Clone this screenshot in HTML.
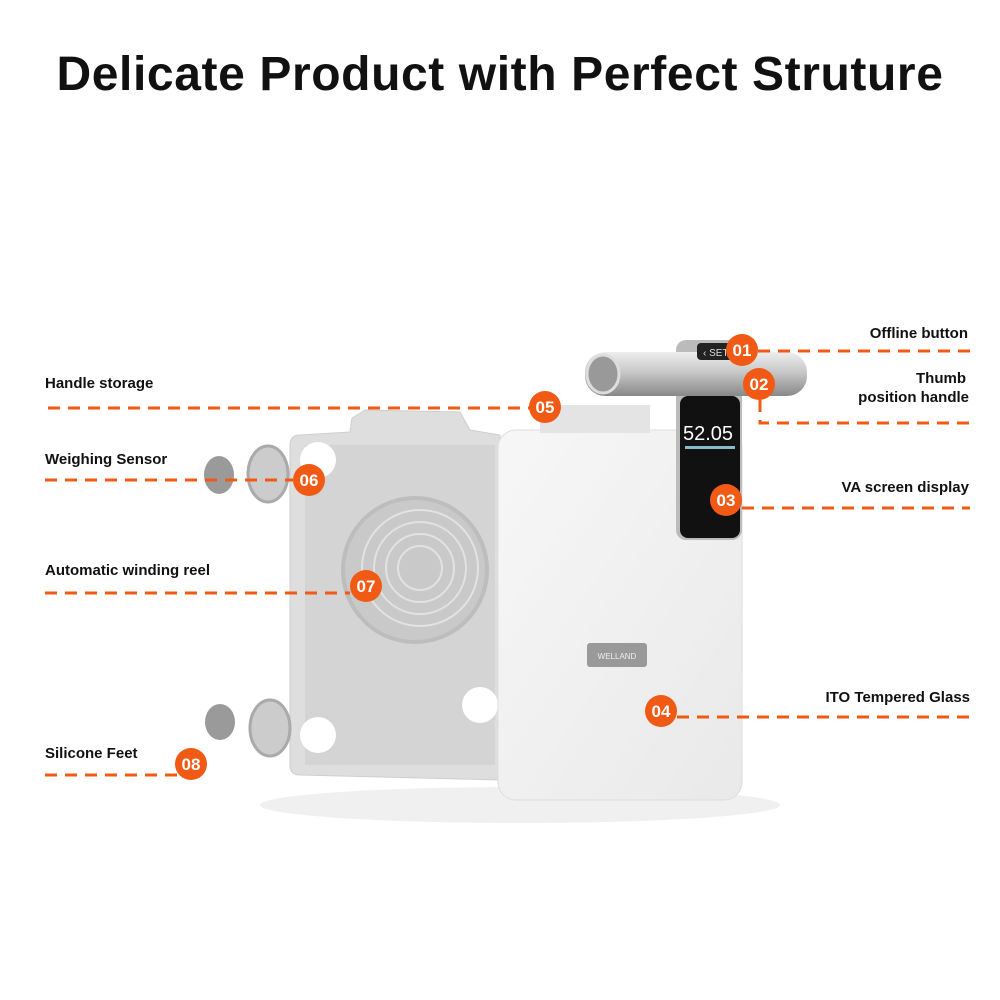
<!DOCTYPE html>
<html><head><meta charset="utf-8"><style>
body{margin:0;background:#fff;width:1000px;height:1000px;overflow:hidden}
svg{display:block}
</style></head><body>
<svg width="1000" height="1000" viewBox="0 0 1000 1000" font-family="Liberation Sans, sans-serif">
<defs>
<linearGradient id="cyl" x1="0" y1="0" x2="0" y2="1"><stop offset="0" stop-color="#eee"/><stop offset="0.45" stop-color="#c8c8c8"/><stop offset="1" stop-color="#888"/></linearGradient>
<linearGradient id="glass" x1="0" y1="0" x2="1" y2="1"><stop offset="0" stop-color="#f7f7f7"/><stop offset="1" stop-color="#e9e9e9"/></linearGradient>
</defs>
<text x="500" y="90" text-anchor="middle" font-size="48" font-weight="bold" letter-spacing="0.6" fill="#111">Delicate Product with Perfect Struture</text>
<ellipse cx="520" cy="805" rx="260" ry="18" fill="#f0f0f0"/>
<path d="M300 435 L350 432 L352 418 L365 410 L460 412 L470 430 L500 435 L500 780 L300 775 Q290 775 290 765 L290 445 Q290 435 300 435Z" fill="#dedede" stroke="#cfcfcf"/>
<rect x="305" y="445" width="190" height="320" fill="#d4d4d4"/>
<circle cx="415" cy="570" r="72" fill="#c9c9c9" stroke="#bdbdbd" stroke-width="4"/>
<circle cx="420" cy="568" r="58" fill="none" stroke="#e2e2e2" stroke-width="2"/>
<circle cx="420" cy="568" r="46" fill="none" stroke="#e2e2e2" stroke-width="2"/>
<circle cx="420" cy="568" r="34" fill="none" stroke="#e2e2e2" stroke-width="2"/>
<circle cx="420" cy="568" r="22" fill="none" stroke="#e2e2e2" stroke-width="2"/>
<circle cx="318" cy="460" r="18" fill="#fff"/>
<circle cx="318" cy="735" r="18" fill="#fff"/>
<circle cx="480" cy="705" r="18" fill="#fff"/>
<ellipse cx="219" cy="475" rx="15" ry="19" fill="#9a9a9a"/>
<ellipse cx="268" cy="474" rx="20" ry="28" fill="#ccc" stroke="#aaa" stroke-width="3"/>
<ellipse cx="220" cy="722" rx="15" ry="18" fill="#9a9a9a"/>
<ellipse cx="270" cy="728" rx="20" ry="28" fill="#ccc" stroke="#aaa" stroke-width="3"/>
<rect x="498" y="430" width="244" height="370" rx="18" fill="url(#glass)" stroke="#ddd"/>
<rect x="587" y="643" width="60" height="24" rx="3" fill="#999"/>
<text x="617" y="659" text-anchor="middle" font-size="8" fill="#eee">WELLAND</text>
<rect x="540" y="405" width="110" height="28" fill="#e4e4e4"/>
<rect x="676" y="340" width="66" height="200" rx="10" fill="#bbb"/>
<rect x="585" y="352" width="222" height="44" rx="20" fill="url(#cyl)"/>
<ellipse cx="603" cy="374" rx="16" ry="19" fill="#999" stroke="#ddd" stroke-width="3"/>
<rect x="697" y="343" width="40" height="17" rx="4" fill="#222"/>
<text x="703" y="356" font-size="10" fill="#ddd">‹ SET</text>
<rect x="680" y="396" width="60" height="142" rx="8" fill="#111"/>
<text x="708" y="440" font-size="20" fill="#fff" text-anchor="middle">52.05</text>
<rect x="685" y="446" width="50" height="3" fill="#8bc"/>
<g font-size="15" font-weight="bold" fill="#111">
<text x="968" y="338" text-anchor="end">Offline button</text>
<text x="966" y="383" text-anchor="end">Thumb</text>
<text x="969" y="402" text-anchor="end">position handle</text>
<text x="969" y="492" text-anchor="end">VA screen display</text>
<text x="970" y="702" text-anchor="end">ITO Tempered Glass</text>
<text x="45" y="388">Handle storage</text>
<text x="45" y="464">Weighing Sensor</text>
<text x="45" y="575">Automatic winding reel</text>
<text x="45" y="758">Silicone Feet</text>
</g>
<g stroke="#f05a14" stroke-width="3" stroke-dasharray="12,8" fill="none">
<path d="M758 351 H970"/>
<path d="M760 400 V423 H970"/>
<path d="M742 508 H970"/>
<path d="M677 717 H970"/>
<path d="M48 408 H530"/>
<path d="M45 480 H293"/>
<path d="M45 593 H350"/>
<path d="M45 775 H180"/>
</g>
<g fill="#f05a14">
<circle cx="742" cy="350" r="16"/><circle cx="759" cy="384" r="16"/><circle cx="726" cy="500" r="16"/><circle cx="661" cy="711" r="16"/>
<circle cx="545" cy="407" r="16"/><circle cx="309" cy="480" r="16"/><circle cx="366" cy="586" r="16"/><circle cx="191" cy="764" r="16"/>
</g>
<g fill="#fff" font-size="17" font-weight="bold" text-anchor="middle">
<text x="742" y="356">01</text><text x="759" y="390">02</text><text x="726" y="506">03</text><text x="661" y="717">04</text>
<text x="545" y="413">05</text><text x="309" y="486">06</text><text x="366" y="592">07</text><text x="191" y="770">08</text>
</g>
</svg>
</body></html>
